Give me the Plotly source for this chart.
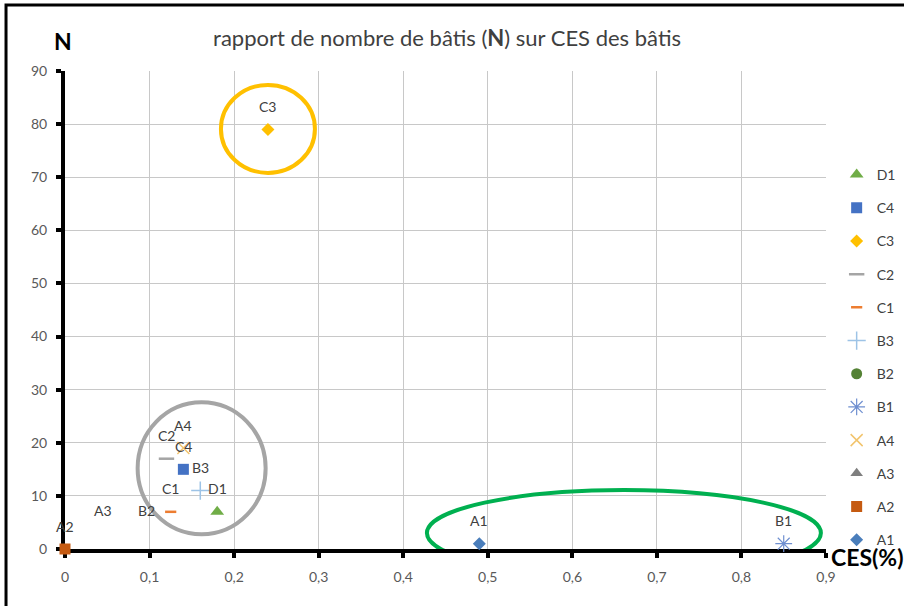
import plotly.graph_objects as go

# Built-up sites: CES ratio (x) against number of buildings N (y)
series = ["A1", "A2", "A3", "A4", "B1", "B2", "B3", "C1", "C2", "C3", "C4", "D1"]
ces = [0.49, 0.0, 0.045, 0.14, 0.85, 0.096, 0.16, 0.125, 0.12, 0.24, 0.14, 0.18]
n_batis = [1, 0, 3, 19, 1, 3, 11, 7, 17, 79, 15, 7]

x_ticks = [0, 0.1, 0.2, 0.3, 0.4, 0.5, 0.6, 0.7, 0.8, 0.9]
y_ticks = [0, 10, 20, 30, 40, 50, 60, 70, 80, 90]

# marker style per series: (symbol, colour, size, line width)
styles = {
    "A1": ("diamond", "#4A7EBB", 10, 0),
    "A2": ("square", "#C55A11", 11, 0),
    "A3": ("triangle-up", "#7F7F7F", 11, 0),
    "A4": ("x-thin", "#F2C46D", 12, 1.5),
    "B1": ("asterisk", "#6F8FD0", 14, 1.2),
    "B2": ("circle", "#548235", 11, 0),
    "B3": ("cross-thin", "#9DC3E6", 13, 1.5),
    "C1": ("line-ew", "#ED7D31", 8, 2.5),
    "C2": ("line-ew", "#A5A5A5", 11, 2.5),
    "C3": ("diamond", "#FFC000", 10, 0),
    "C4": ("square", "#4472C4", 11, 0),
    "D1": ("triangle-up", "#70AD47", 12, 0),
}
# series whose point marker is not drawn on the plot (label only)
label_only = {"A3", "B2"}


def marker_for(name):
    sym, col, size, lw = styles[name]
    line_sym = sym in ("x-thin", "asterisk", "cross-thin", "line-ew")
    return dict(symbol=sym, size=size, color=col,
                line=dict(color=col, width=lw if line_sym else 0))


fig = go.Figure()

for name, x, y in zip(series, ces, n_batis):
    if name not in label_only:
        fig.add_trace(go.Scatter(
            x=[x], y=[y], mode="markers", marker=marker_for(name), name=name,
            legendgroup=name, showlegend=False, cliponaxis=False,
            hoverinfo="x+y+name"))
    # data label above the point
    fig.add_annotation(x=x, y=y, xref="x", yref="y", text=name,
                       showarrow=False, yshift=23,
                       font=dict(size=14, color="#404040"))

# legend entries, last series on top
for name in reversed(series):
    fig.add_trace(go.Scatter(
        x=[None], y=[None], mode="markers", marker=marker_for(name),
        name=name, legendgroup=name, showlegend=True))

# highlight groups
circles = [
    (0.24, 79.1, 47, 44, "#FFC000"),
    (0.1616, 15.2, 64, 66, "#A5A5A5"),
    (0.661, 3.0, 197, 43, "#00B050"),
]
for cx, cy, rx, ry, col in circles:
    fig.add_shape(type="circle", xref="x", yref="y",
                  xsizemode="pixel", ysizemode="pixel",
                  xanchor=cx, yanchor=cy, x0=-rx, x1=rx, y0=-ry, y1=ry,
                  line=dict(color=col, width=4), layer="above")

# outer frame
fig.add_shape(type="rect", xref="paper", yref="paper",
              x0=-0.0775, x1=1.3, y0=-0.3, y1=1.138,
              line=dict(color="black", width=3), layer="below")

fig.add_annotation(text="<b>N</b>", xref="paper", yref="paper",
                   x=-0.003, y=1.063, xanchor="center", yanchor="middle",
                   showarrow=False, font=dict(size=23, color="black"))
fig.add_annotation(text="<b>CES(%)</b>", xref="paper", yref="paper",
                   x=1.004, y=-0.017, xanchor="left", yanchor="middle",
                   showarrow=False, font=dict(size=23, color="black"))

axis_common = dict(
    showline=True, linecolor="black", linewidth=4,
    ticks="outside", ticklen=5, tickwidth=4, tickcolor="black",
    showgrid=True, gridcolor="#C8C8C8", gridwidth=1,
    zeroline=False, layer="below traces",
    tickfont=dict(size=14, color="#595959"),
)

fig.update_xaxes(range=[0, 0.9], tickvals=x_ticks, tickformat=",.1~f",
                 ticklabelstandoff=7, **axis_common)
fig.update_yaxes(range=[0, 90], tickvals=y_ticks,
                 ticklabelstandoff=6, **axis_common)

fig.update_layout(
    width=904, height=606,
    margin=dict(l=65, r=78, t=71, b=57, autoexpand=False),
    paper_bgcolor="white", plot_bgcolor="white",
    separators=", ",
    font=dict(family="Lato, Open Sans, sans-serif", color="#404040"),
    title=dict(text="rapport de nombre de bâtis (<b>N</b>) sur CES des bâtis",
               x=0.502, xref="paper", y=0.937, yref="container",
               xanchor="center", yanchor="middle",
               font=dict(size=22, color="#404040")),
    legend=dict(x=1.014, y=0.816, xanchor="left", yanchor="top",
                traceorder="grouped", tracegroupgap=12.0,
                font=dict(size=14, color="#404040"),
                bgcolor="rgba(0,0,0,0)"),
    showlegend=True,
)

fig.write_html("out.html")
